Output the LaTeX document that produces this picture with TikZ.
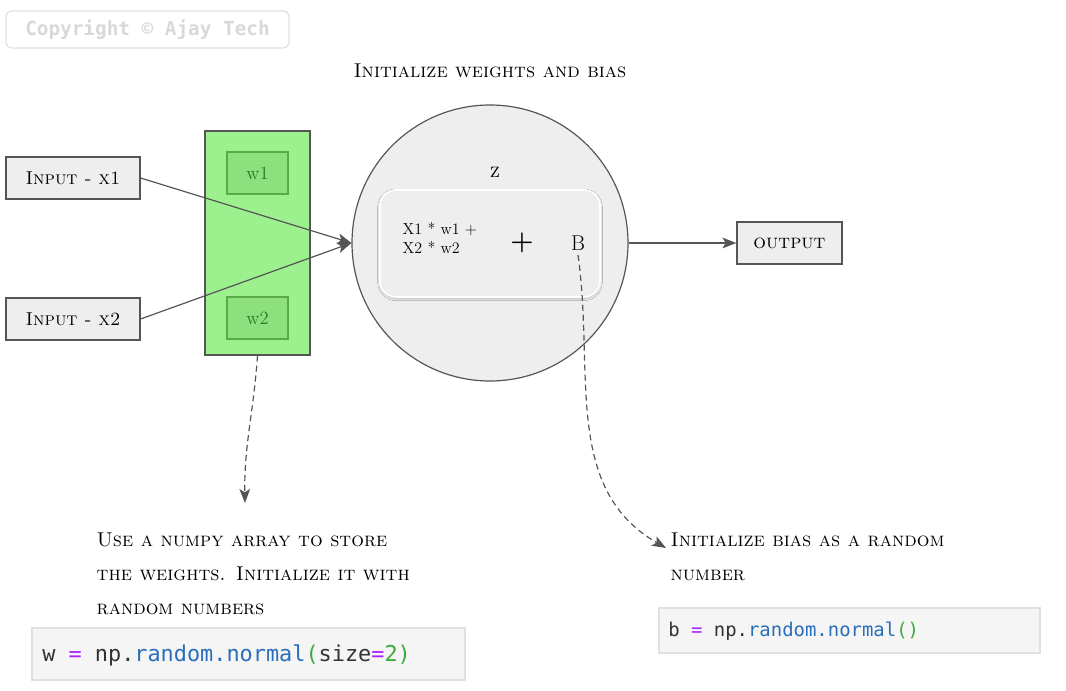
\documentclass[tikz,border=0pt]{standalone}
\usepackage{fontspec}
\newfontfamily\codefont{DejaVu Sans Mono}
\usetikzlibrary{shadows.blur}
\usetikzlibrary{arrows.meta}
\definecolor{boxgray}{HTML}{EEEEEE}
\definecolor{linegray}{HTML}{555555}
\definecolor{wgtgreen}{HTML}{9DF08E}
\definecolor{wgtinner}{HTML}{8EE07E}
\definecolor{wgtline}{HTML}{5AAA4C}
\definecolor{wgttext}{HTML}{2A7A2A}
\definecolor{codebg}{HTML}{F5F5F5}
\definecolor{codeline}{HTML}{E0E0E0}
\definecolor{copytext}{HTML}{D8D8D8}
\definecolor{codeop}{HTML}{AA22FF}
\definecolor{codefn}{HTML}{2A6EBB}
\definecolor{codenum}{HTML}{3DAA3D}
\definecolor{codetxt}{HTML}{333333}
\tikzset{% 
	box/.style={draw=linegray,fill=boxgray,line width=0.9pt,inner sep=0pt}
}
\tikzset{% 
	link/.style={draw=linegray,line width=0.9pt,-{Stealth[length=10.5pt,width=8pt,inset=2.5pt]}}
}
\tikzset{% 
	hint/.style={link,dash pattern=on 4.5pt off 3pt}
}
\tikzset{% 
	codebox/.style={draw=codeline,fill=codebg,line width=0.9pt,inner sep=0pt}
}
\tikzset{% 
	note/.style={anchor=north west,align=left,font=\fontsize{15}{25.5}\selectfont\scshape}
}

\begin{document}
\begin{tikzpicture}[x=0.75pt,y=-0.75pt]
		\useasboundingbox (0,0) rectangle (1066,691);

		%Copyright
		\node (copy) [draw=codeline,rounded corners=4pt,line width=0.9pt,minimum width=212.25pt,minimum height=27.75pt,text=copytext,font=\codefont\bfseries\fontsize{14.5}{16}\selectfont] at (147.5,29.5) {Copyright © Ajay Tech};

		\node (title) [font=\fontsize{15}{18}\selectfont\scshape] at (490,71) {Initialize weights and bias};

		%Inputs
		\node (x1) [box,minimum width=100.5pt,minimum height=31.5pt,font=\fontsize{14}{18}\selectfont\scshape] at (73,178) {Input - x1};
		\node (x2) [box,minimum width=100.5pt,minimum height=31.5pt,font=\fontsize{14}{18}\selectfont\scshape] at (73,319) {Input - x2};

		%Weights
		\node (wgt) [draw=linegray,fill=wgtgreen,line width=0.9pt,minimum width=78.75pt,minimum height=168pt] at (257.5,243) {};
		\node (w1) [draw=wgtline,fill=wgtinner,line width=0.9pt,minimum width=45.75pt,minimum height=31.5pt,text=wgttext,font=\fontsize{14}{16}\selectfont] at (257.5,173) {w1};
		\node (w2) [draw=wgtline,fill=wgtinner,line width=0.9pt,minimum width=45.75pt,minimum height=31.5pt,text=wgttext,font=\fontsize{14}{16}\selectfont] at (257.5,318) {w2};

		%Neuron
		\node (neuron) [box,circle,minimum size=207pt] at (490,243) {};
		\node (z) [font=\fontsize{15}{18}\selectfont\scshape] at (495,172) {z};
		\node (sum) [draw=white,fill=boxgray,line width=1.2pt,rounded corners=12pt,minimum width=165pt,minimum height=80.25pt,blur shadow={shadow blur steps=5,shadow xshift=0pt,shadow yshift=-1pt,shadow opacity=25}] at (490,243.5) {};
		\node (prod) [anchor=west,align=left,font=\fontsize{12}{14}\selectfont] at (398,238) {X1 * w1 +\\X2 * w2};
		\node (plus) [font=\fontsize{20}{20}\selectfont\bfseries] at (522,243) {+};
		\node (bias) [font=\fontsize{16}{18}\selectfont] at (578,243) {B};

		%Output
		\node (out) [box,minimum width=78.75pt,minimum height=31.5pt,font=\fontsize{15}{18}\selectfont\scshape] at (789.5,243) {output};

		\draw [link] (x1.east) -- (neuron.west);
		\draw [link] (x2.east) -- (neuron.west);
		\draw [link] (neuron.east) -- (out.west);

		%Notes
		\coordinate (wtip) at (245,503);
		\coordinate (btip) at (666,548);
		\draw [hint] (wgt.south) to[out=-94,in=91] (wtip);
		\draw [hint] (bias.south) to[out=-82,in=150] (btip);

		\node (wnote) [note] at (92,528) {Use a numpy array to store\\the weights. Initialize it with\\random numbers};
		\node (bnote) [note] at (666,528) {Initialize bias as a random\\number};

		%Code
		\node (wcode) [codebox,minimum width=324.75pt,minimum height=39pt] at (248.5,654) {};
		\node (wtext) [anchor=west,inner sep=0pt,text=codetxt,font=\codefont\fontsize{16.4}{18}\selectfont] at (42,655) {w \textcolor{codeop}{=} np.\textcolor{codefn}{random.normal}\textcolor{codenum}{(}size\textcolor{codeop}{=}\textcolor{codenum}{2)}};
		\node (bcode) [codebox,minimum width=285.75pt,minimum height=33.75pt] at (849.5,630.5) {};
		\node (btext) [anchor=west,inner sep=0pt,text=codetxt,font=\codefont\fontsize{14.2}{16}\selectfont] at (668,631) {b \textcolor{codeop}{=} np.\textcolor{codefn}{random.normal}\textcolor{codenum}{()}};

	\end{tikzpicture}
\end{document}
